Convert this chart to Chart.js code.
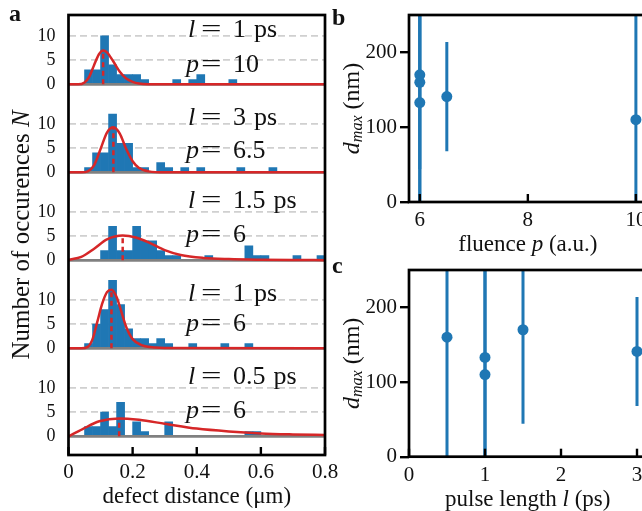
<!DOCTYPE html>
<html><head><meta charset="utf-8">
<script src="https://cdn.jsdelivr.net/npm/chart.js@4"></script>
<style>
html,body{margin:0;padding:0;background:#fff;overflow:hidden;width:642px;height:511px;}
.c{position:absolute;}
</style></head><body>
<div class="c" style="left:0;top:0;"><canvas id="ca" width="345" height="511"></canvas></div>
<div class="c" style="left:330px;top:0;"><canvas id="cb" width="330" height="260"></canvas></div>
<div class="c" style="left:330px;top:260px;"><canvas id="cc" width="330" height="251"></canvas></div>
<script>
// ---------------- DATA: panel a (histograms of defect distance, µm) ----------------
const binWidth = 0.025;
// subpanel 1: l = 1 ps, p = 10
const h1x = [0.0625,0.0875,0.1125,0.1375,0.1625,0.1875,0.2125,0.2375,0.3375,0.3875,0.4125,0.5125];
const h1n = [3,3,10,4,2,2,2,1,1,1,2,1];
// subpanel 2: l = 3 ps, p = 6.5
const h2x = [0.0625,0.0875,0.1125,0.1375,0.1625,0.1875,0.2125,0.2375,0.2875,0.3125,0.3625,0.4125,0.5375,0.6375];
const h2n = [1,4,4,12,6,6,1,1,2,1,1,1,1,1];
// subpanel 3: l = 1.5 ps, p = 6
const h3x = [0.1125,0.1375,0.1625,0.1875,0.2125,0.2375,0.2625,0.2875,0.3125,0.3375,0.4375,0.5625,0.5875,0.6125,0.7125,0.7875];
const h3n = [2,7,2,2,7,4,4,2,1,1,1,3,1,1,1,1];
// subpanel 4: l = 1 ps, p = 6
const h4x = [0.0625,0.0875,0.1125,0.1375,0.1625,0.1875,0.2125,0.2375,0.2625,0.2875,0.3125,0.3875,0.4875,0.5625];
const h4n = [1,5,8,14,9,4,2,2,1,2,1,1,1,1];
// subpanel 5: l = 0.5 ps, p = 6
const h5x = [0.0625,0.0875,0.1125,0.1375,0.1625,0.2125,0.2375,0.3125,0.5625,0.5875];
const h5n = [2,2,5,2,7,3,1,3,1,1];

// fitted distributions
const f1x = [0,0.03,0.05,0.065,0.08,0.095,0.108,0.12,0.14,0.16,0.18,0.2,0.22,0.25,0.3,0.8];
const f1y = [0,0,0.4,1.6,4.0,6.2,7.0,6.6,4.7,2.6,1.2,0.5,0.15,0.02,0,0];
const f2x = [0,0.04,0.06,0.08,0.1,0.12,0.14,0.16,0.18,0.2,0.22,0.25,0.3,0.8];
const f2y = [0,0,0.2,1.5,4.8,8.2,9.3,8.0,4.8,2.3,0.9,0.2,0,0];
const f3x = [0,0.04,0.08,0.12,0.169,0.21,0.25,0.3,0.35,0.42,0.5,0.6,0.7,0.8];
const f3y = [0.1,0.7,2.4,4.3,5.1,4.7,3.7,2.1,1.1,0.5,0.25,0.12,0.06,0.04];
const f4x = [0,0.04,0.06,0.075,0.09,0.105,0.12,0.134,0.15,0.165,0.18,0.2,0.23,0.27,0.3,0.8];
const f4y = [0,0,0.3,1.9,5.5,9.2,11.6,12.1,10.6,7.5,4.4,1.9,0.6,0.15,0.05,0];
const f5x = [0,0.044,0.096,0.158,0.22,0.3,0.4,0.5,0.6,0.7,0.8];
const f5y = [0,1.5,3.1,3.7,3.4,2.6,1.6,1.0,0.6,0.4,0.28];

// fit maximum (dashed line) position and height per subpanel
const peakX = [0.108,0.14,0.169,0.134,0.158];
const peakY = [7.0,9.3,5.1,12.1,3.7];

const pulseLabels = ['1','3','1.5','1','0.5'];
const fluenceLabels = ['10','6.5','6','6','6'];

const countTicks = [0,5,10];
const distTicks = [0,0.2,0.4,0.6,0.8];
const distTickLabels = ['0','0.2','0.4','0.6','0.8'];

// ---------------- DATA: panels b, c ----------------
const sampleL = [0.5, 1, 1, 1.5, 3];          // pulse length l (ps)
const sampleP = [6, 6, 10, 6, 6.5];           // fluence p (a.u.)
const sampleDmax = [160, 133, 110, 170, 141]; // d_max (nm)
const sampleErr = [200, 180, 160, 126, 73];   // error (nm)
const fluenceTicks = [6,8,10];
const pulseTicks = [0,1,2,3];
const dmaxTicks = [0,100,200];

// ---------------- STYLE ----------------
const FONT = "'Liberation Serif', serif";
const BLUE = '#1f77b4', RED = '#d62728', GRAYL = '#808080';
Chart.defaults.font.family = FONT;
Chart.defaults.color = '#111';
Chart.defaults.animation = false;
Chart.defaults.plugins.legend.display = false;
Chart.defaults.plugins.tooltip.enabled = false;

const pts = (xs, ys) => xs.map((x,i)=>({x, y: ys[i]}));

// ---------------- PANEL A ----------------
const hx = [h1x,h2x,h3x,h4x,h5x], hn = [h1n,h2n,h3n,h4n,h5n];
const fx = [f1x,f2x,f3x,f4x,f5x], fy = [f1y,f2y,f3y,f4y,f5y];
const subIds = ['s1','s2','s3','s4','s5'];
const labelLPos = [9.8, 9.75, 10.8, 9.75, 10.8];  // text baseline (data units)
const labelPPos = [2.6, 2.9, 3.7, 3.55, 3.7];

const dsA = [];
subIds.forEach((id,i)=>{
  dsA.push({type:'bar', data: pts(hx[i], hn[i]), yAxisID:id, xAxisID:'x', backgroundColor:BLUE,
            borderWidth:0, grouped:false, barPercentage:1, categoryPercentage:1, order:4});
  dsA.push({type:'line', data: pts([0,0.8],[0,0]), yAxisID:id, borderColor:GRAYL, borderWidth:2.6,
            pointRadius:0, order:3});
  dsA.push({type:'line', data: pts([peakX[i],peakX[i]],[0,peakY[i]]), yAxisID:id, borderColor:RED,
            borderWidth:2.5, borderDash:[5,3.5], pointRadius:0, order:2});
  dsA.push({type:'line', data: pts(fx[i], fy[i]), yAxisID:id, borderColor:RED, borderWidth:2.5,
            pointRadius:0, cubicInterpolationMode:'monotone', order:1});
});

const scalesA = {
  x: {type:'linear', position:'bottom', min:0, max:0.8, offset:false,
      afterBuildTicks: s => { s.ticks = distTicks.map(v=>({value:v})); },
      ticks:{callback:(v,i)=>distTickLabels[i], font:{size:21}, padding:5, maxRotation:0},
      grid:{display:false, drawTicks:false, offset:false}, border:{display:false},
      afterFit: s => { s.height = 56; s.paddingLeft = 0; s.paddingRight = 0; }}
};
subIds.forEach((id,i)=>{
  scalesA[id] = {type:'linear', position:'left', stack:'hist', stackWeight:1, weight: 5-i,
    min:-3.85, max:14.3,
    afterBuildTicks: s => { s.ticks = countTicks.map(v=>({value:v})); },
    ticks:{font:{size:18}, padding:13},
    grid:{drawTicks:false, color: c => (c.tick && c.tick.value===0) ? 'rgba(0,0,0,0)' : '#d0d0d0', lineWidth:1.8},
    border:{display:false, dash:[7,4]},
    afterFit: s => { s.width = 68.5; s.paddingTop = 0; s.paddingBottom = 0; }};
});

function drawMixed(ctx, parts, x, y) {
  let cx = x;
  parts.forEach(p=>{ ctx.font = p[1]; ctx.fillText(p[0], cx, y + (p[2]||0)); cx += ctx.measureText(p[0]).width; });
  return cx;
}
function mixedWidth(ctx, parts){ let w=0; parts.forEach(p=>{ctx.font=p[1]; w+=ctx.measureText(p[0]).width;}); return w; }
function wideEq(ctx, x, y, font) {
  ctx.save(); ctx.font = font; ctx.translate(x, y); ctx.scale(1.4, 1); ctx.fillText('=', 0, 0); ctx.restore();
}

const panelA = {
  id:'panelA',
  afterDraw(chart){
    const {ctx, chartArea:a} = chart;
    ctx.save();
    ctx.strokeStyle = '#000'; ctx.lineWidth = 2.7;
    ctx.strokeRect(a.left, a.top, a.right-a.left, a.bottom-a.top);
    const xs = chart.scales.x;
    ctx.lineWidth = 2.4;
    distTicks.forEach(v=>{ const px = xs.getPixelForValue(v); ctx.beginPath(); ctx.moveTo(px,a.bottom); ctx.lineTo(px,a.bottom-8); ctx.stroke(); });
    ctx.fillStyle = '#111'; ctx.textBaseline = 'alphabetic'; ctx.textAlign='left';
    const it = "italic 26px "+FONT, rm = "26px "+FONT;
    subIds.forEach((id,i)=>{
      const ys = chart.scales[id];
      const yl = ys.getPixelForValue(labelLPos[i]), yp = ys.getPixelForValue(labelPPos[i]);
      ctx.font = it; ctx.fillText('l', 188, yl); ctx.fillText('p', 186, yp);
      wideEq(ctx, 201, yl, rm); wideEq(ctx, 201, yp, rm);
      ctx.font = rm;
      ctx.fillText(pulseLabels[i], 233, yl);
      const w = ctx.measureText(pulseLabels[i]).width;
      ctx.fillText('ps', 233 + w + 8, yl);
      ctx.fillText(fluenceLabels[i], 233, yp);
    });
    // x title
    ctx.font = "23px "+FONT; ctx.textAlign='center'; ctx.textBaseline='middle';
    ctx.fillText('defect distance (\u03bcm)', (a.left+a.right)/2, 497);
    // y title
    ctx.save();
    ctx.translate(22, (a.top+a.bottom)/2); ctx.rotate(-Math.PI/2);
    ctx.textAlign='left';
    const parts = [['Number of occurences ', "25px "+FONT], ['N', "italic 25px "+FONT]];
    drawMixed(ctx, parts, -mixedWidth(ctx, parts)/2, 0);
    ctx.restore();
    // panel letter
    ctx.font = "bold 24px "+FONT; ctx.textAlign='left'; ctx.textBaseline='alphabetic';
    ctx.fillText('a', 9, 21);
    ctx.restore();
  }
};

new Chart(document.getElementById('ca'), {
  type:'bar',
  data:{datasets: dsA},
  options:{responsive:false, devicePixelRatio:1, layout:{padding:{left:0, right:20, top:15, bottom:0}},
    scales: scalesA},
  plugins:[panelA]
});

// ---------------- PANELS B and C ----------------
function errDatasets(xs) {
  return xs.map((x,i)=>({type:'line', data: pts([x,x],[sampleDmax[i]-sampleErr[i], sampleDmax[i]+sampleErr[i]]),
    borderColor:BLUE, borderWidth:3, pointRadius:0, clip:0, order:2}));
}
function rightPanel(canvasId, xs, xmin, xmax, xTicks, titleParts, letter, letterY, xTitleY, xHeight, padTop, padRight) {
  const plug = {
    id:'frame'+canvasId,
    afterDraw(chart){
      const {ctx, chartArea:a} = chart;
      ctx.save();
      ctx.strokeStyle='#000'; ctx.lineWidth=2.7;
      ctx.strokeRect(a.left, a.top, a.right-a.left, a.bottom-a.top);
      const sx = chart.scales.x; ctx.lineWidth = 2.4;
      xTicks.forEach(v=>{ const px=sx.getPixelForValue(v); ctx.beginPath(); ctx.moveTo(px,a.bottom); ctx.lineTo(px,a.bottom-8); ctx.stroke(); });
      ctx.fillStyle='#111';
      ctx.textBaseline='middle'; ctx.textAlign='left';
      const w = mixedWidth(ctx, titleParts);
      drawMixed(ctx, titleParts, (a.left+a.right)/2 - w/2, xTitleY);
      ctx.save();
      ctx.translate(23, (a.top+a.bottom)/2); ctx.rotate(-Math.PI/2);
      const yparts = [['d', "italic 24px "+FONT, 0], ['max', "italic 16px "+FONT, 5], [' (nm)', "24px "+FONT, 0]];
      drawMixed(ctx, yparts, -mixedWidth(ctx, yparts)/2, 0);
      ctx.restore();
      ctx.font = "bold 24px "+FONT; ctx.textBaseline='alphabetic';
      ctx.fillText(letter, 2, letterY);
      ctx.restore();
    }
  };
  return new Chart(document.getElementById(canvasId), {
    type:'scatter',
    data:{datasets:[
      {type:'scatter', data: pts(xs, sampleDmax), backgroundColor:BLUE, pointRadius:5.5, pointBorderWidth:0, order:1, clip:false},
      ...errDatasets(xs)
    ]},
    options:{responsive:false, devicePixelRatio:1,
      layout:{padding:{left:0, right:padRight, top:padTop, bottom:0}},
      scales:{
        x:{type:'linear', min:xmin, max:xmax,
           afterBuildTicks: s => { s.ticks = xTicks.map(v=>({value:v})); },
           ticks:{font:{size:21}, padding:6, maxRotation:0},
           grid:{display:false, drawTicks:false}, border:{display:false},
           afterFit: s => { s.height = xHeight; s.paddingLeft = 0; s.paddingRight = 0; }},
        y:{type:'linear', min:0, max:250,
           afterBuildTicks: s => { s.ticks = dmaxTicks.map(v=>({value:v})); },
           ticks:{font:{size:21}, padding:3},
           grid:{drawOnChartArea:false, drawTicks:true, tickLength:9, tickWidth:2.4, tickColor:'#000', lineWidth:2.4, color:'#000'},
           border:{display:false},
           afterFit: s => { s.width = 79; s.paddingTop = 0; s.paddingBottom = 0; }}
      }},
    plugins:[plug]
  });
}
rightPanel('cb', sampleP, 5.8, 10.2, fluenceTicks,
  [['fluence ', "23px "+FONT], ['p', "italic 23px "+FONT], [' (a.u.)', "23px "+FONT]],
  'b', 25, 245, 58, 15, 13.3);
rightPanel('cc', sampleL, 0, 3.125, pulseTicks,
  [['pulse length ', "23px "+FONT], ['l', "italic 23px "+FONT], [' (ps)', "23px "+FONT]],
  'c', 13, 240, 54.3, 10, 13.5);
</script>
</body></html>
